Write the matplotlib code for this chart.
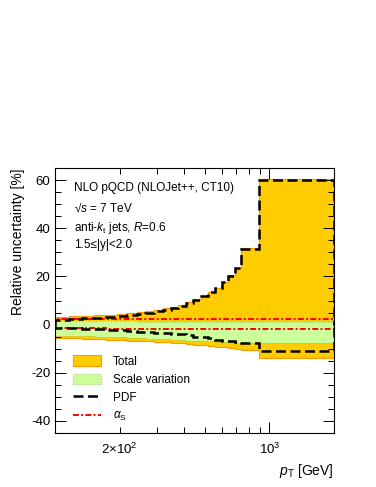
import matplotlib
matplotlib.use("Agg")
import matplotlib.pyplot as plt
import matplotlib.ticker as mticker
from matplotlib.patches import Patch
from matplotlib.lines import Line2D

plt.rcParams['font.family'] = ['Liberation Sans', 'DejaVu Sans']
plt.rcParams['mathtext.fontset'] = 'custom'
plt.rcParams['mathtext.rm'] = 'Liberation Sans'
plt.rcParams['mathtext.it'] = 'Liberation Sans:italic'
plt.rcParams['axes.unicode_minus'] = False

# pT bin edges [GeV]
edges = [100, 116, 134, 152, 172, 194, 216, 240, 264, 290, 318, 346, 376,
         408, 442, 478, 516, 556, 598, 642, 688, 736, 894, 2000]

# relative uncertainties [%], one value per bin
total_up = [3.3, 3.5, 3.7, 3.9, 4.1, 4.4, 4.8, 5.2, 5.6, 6.1, 6.7, 7.4,
            8.3, 9.2, 10.5, 12.0, 13.7, 15.3, 17.7, 20.5, 23.5, 31.8, 60.3]
total_dn = [-5.4, -5.6, -5.8, -6.0, -6.2, -6.4, -6.6, -6.8, -7.0, -7.2, -7.4, -7.6,
            -7.8, -8.0, -8.3, -8.6, -8.9, -9.2, -9.5, -9.8, -10.1, -10.6, -14.0]
scale_up = [1.4, 1.4, 1.4, 1.3, 1.3, 1.3, 1.3, 1.2, 1.2, 1.2, 1.2, 1.2,
            1.1, 1.1, 1.1, 1.1, 1.1, 1.0, 1.0, 1.0, 1.0, 1.0, 1.0]
scale_dn = [-4.6, -4.7, -4.8, -5.0, -5.1, -5.3, -5.4, -5.6, -5.8, -5.9, -6.1, -6.3,
            -6.4, -6.6, -6.8, -6.9, -7.0, -7.2, -7.3, -7.4, -7.5, -7.6, -7.7]
pdf_up = [2.0, 2.3, 2.6, 2.9, 3.2, 3.6, 4.0, 4.5, 5.0, 5.5, 6.2, 6.9,
          7.9, 8.8, 10.2, 11.7, 13.4, 15.0, 17.5, 20.3, 23.3, 31.6, 60.2]
pdf_dn = [-1.4, -1.6, -1.8, -2.0, -2.2, -2.4, -2.7, -3.0, -3.2, -3.4, -3.6, -3.8,
          -4.1, -4.4, -5.0, -5.3, -5.7, -6.3, -6.6, -7.0, -7.3, -7.7, -11.0]
as_up = [2.2, 2.2, 2.2, 2.2, 2.2, 2.3, 2.3, 2.3, 2.3, 2.3, 2.3, 2.3,
         2.4, 2.4, 2.4, 2.4, 2.4, 2.4, 2.4, 2.5, 2.5, 2.5, 2.5]
as_dn = [-1.6, -1.6, -1.6, -1.6, -1.7, -1.7, -1.7, -1.7, -1.7, -1.7, -1.8, -1.8,
         -1.8, -1.8, -1.8, -1.8, -1.9, -1.9, -1.9, -1.9, -1.9, -2.0, -2.0]

orange = '#FFCC00'
orange_edge = '#FF9900'
green = '#CCFF99'
green_edge = '#99CC66'
red = '#FF0000'

fig = plt.figure(figsize=(3.76, 4.87), dpi=100)
ax = fig.add_axes([0.1463, 0.1109, 0.742, 0.544])

ax.stairs(total_up, edges, baseline=total_dn, fill=True, color=orange,
          zorder=1)
ax.stairs(total_up, edges, baseline=total_dn, color=orange_edge, lw=0.8,
          zorder=1)
ax.stairs(scale_up, edges, baseline=scale_dn, fill=True, color=green,
          zorder=2)
ax.stairs(scale_up, edges, baseline=scale_dn, color=green_edge, lw=0.8,
          ls=':', zorder=2)

pdf_style = dict(color='black', lw=1.8, ls=(0, (4, 1.8)))
as_style = dict(color=red, lw=1.4, ls=(0, (3, 1.2, 1, 1.2)))
for vals in (pdf_up, pdf_dn):
    ax.stairs(vals, edges, zorder=4, **pdf_style)
for vals in (as_up, as_dn):
    ax.stairs(vals, edges, zorder=3, **as_style)

ax.set_xscale('log')
ax.set_xlim(100, 2000)
ax.set_ylim(-45, 65)

ax.yaxis.set_major_locator(mticker.MultipleLocator(20))
ax.yaxis.set_minor_locator(mticker.MultipleLocator(5))
ax.yaxis.set_major_formatter(mticker.FuncFormatter(lambda v, p: '%d' % v))
ax.xaxis.set_major_locator(mticker.FixedLocator([1000]))
ax.xaxis.set_minor_locator(mticker.FixedLocator(
    [200, 300, 400, 500, 600, 700, 800, 900, 2000]))
ax.xaxis.set_major_formatter(mticker.FixedFormatter([r'$10^{3}$']))
ax.xaxis.set_minor_formatter(mticker.FuncFormatter(
    lambda v, p: r'$2{\times}10^{2}$' if abs(v - 200) < 1 else ''))

ax.tick_params(which='both', direction='in', top=True, right=True,
               labelsize=9.5, width=0.7)
ax.tick_params(which='major', length=8)
ax.tick_params(which='minor', length=4)
ax.tick_params(axis='x', which='both', pad=6)
for sp in ax.spines.values():
    sp.set_linewidth(0.8)

ax.set_ylabel('Relative uncertainty [%]', fontsize=10, loc='top')
ax.set_xlabel(r'$p_{\rm T}$ [GeV]', fontsize=10, loc='right')

fs = 8.5
ax.text(0.068, 0.925, 'NLO pQCD (NLOJet++, CT10)', transform=ax.transAxes,
        fontsize=fs, va='center')
ax.text(0.068, 0.85, '\u221A$s$ = 7 TeV', transform=ax.transAxes,
        fontsize=fs, va='center')
ax.text(0.068, 0.775, r'anti-$k_{\rm t}$ jets, $R$=0.6', transform=ax.transAxes,
        fontsize=fs, va='center')
ax.text(0.068, 0.71, '1.5\u2264|y|<2.0', transform=ax.transAxes,
        fontsize=fs, va='center')

handles = [
    Patch(facecolor=orange, edgecolor=orange_edge, lw=0.8),
    Patch(facecolor=green, edgecolor=green_edge, lw=0.8, ls=':'),
    Line2D([], [], **pdf_style),
    Line2D([], [], **as_style),
]
labels = ['Total', 'Scale variation', 'PDF', r'$\alpha_{\rm S}$']
ax.legend(handles, labels, loc='lower left', bbox_to_anchor=(0.035, 0.005),
          frameon=False, fontsize=8.5, handlelength=2.4, handleheight=1.0,
          handletextpad=1.0, labelspacing=0.5, borderpad=0.2)

fig.savefig('out.png', dpi=100)
